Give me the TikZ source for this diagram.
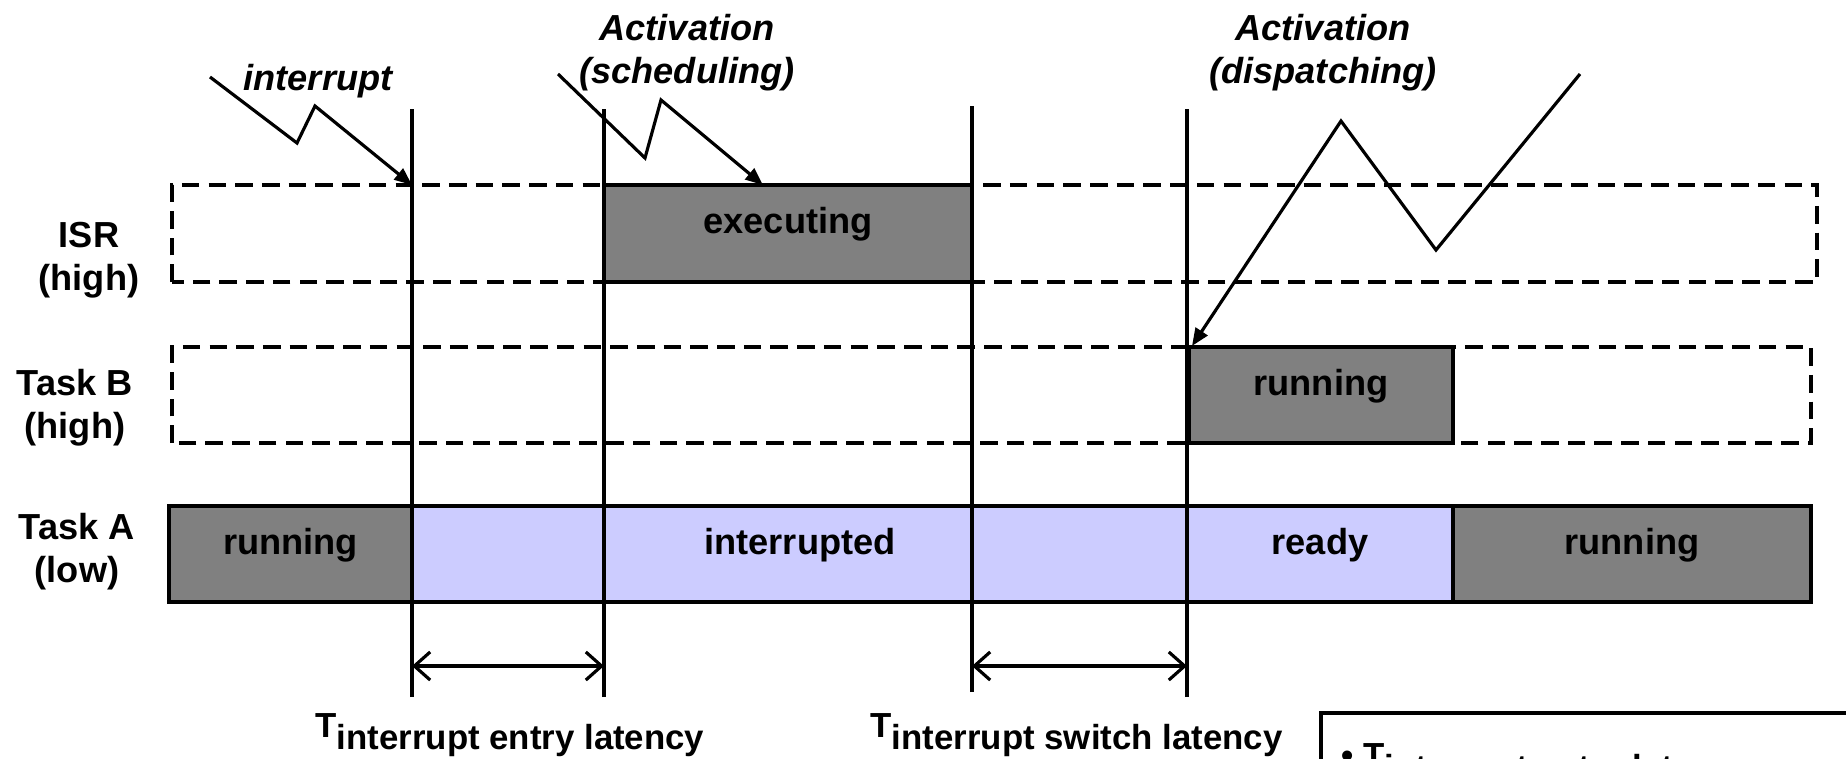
\documentclass[tikz,border=0pt]{standalone}
\usepackage{fontspec}
\setmainfont{Liberation Sans}
\usetikzlibrary{arrows.meta}
\definecolor{cbusy}{gray}{0.5}
\definecolor{cwait}{RGB}{204,204,255}
\tikzset{
  lane/.style={dash pattern=on 5pt off 2.6pt, line width=1pt},
  busy/.style={fill=cbusy, draw=black, line width=1pt},
  waitbox/.style={fill=cwait, draw=black, line width=1pt},
  txt/.style={font=\fontsize{10.3}{12.3}\selectfont\bfseries, inner sep=0pt},
  evt/.style={txt, font=\fontsize{10.3}{12.3}\selectfont\bfseries\itshape, align=center},
  latlabel/.style={txt, font=\fontsize{9.9}{12}\selectfont\bfseries, anchor=base west},
  instant/.style={line width=1pt},
  zig/.style={line width=0.9pt, -{Triangle[length=5pt, width=4pt]}},
  lat/.style={line width=0.9pt, {Straight Barb[length=4.5pt, width=8pt]}-{Straight Barb[length=4.5pt, width=8pt]}}
}

\begin{document}
\begin{tikzpicture}[scale=1]
  \useasboundingbox (0,0) rectangle (18.46,7.58);
  \clip (0,0) rectangle (18.46,7.58);

  % Bahnen fuer ISR und Task B
  \draw[lane] (1.72,4.76) rectangle (18.17,5.73);
  \draw[lane] (1.72,3.15) rectangle (18.11,4.11);

  % belegte Abschnitte
  \draw[busy] (6.04,4.76) rectangle (9.72,5.73);
  \draw[busy] (11.89,3.15) rectangle (14.53,4.11);
  \draw[waitbox] (4.12,1.56) rectangle (14.53,2.52);
  \draw[busy] (1.69,1.56) rectangle (4.12,2.52);
  \draw[busy] (14.53,1.56) rectangle (18.11,2.52);

  % Zeitpunkte
  \foreach \x/\yt/\yb in {4.12/6.49/0.61, 6.04/6.49/0.61, 9.72/6.52/0.66, 11.87/6.49/0.61}
    \draw[instant] (\x,\yb) -- (\x,\yt);

  \node[txt, anchor=base] (isrexec) at (7.88,5.245) {executing};
  \node[txt, anchor=base] (brun) at (13.21,3.63) {running};
  \node[txt, anchor=base] (arunA) at (2.905,2.04) {running};
  \node[txt, anchor=base] (aint) at (8.0,2.04) {interrupted};
  \node[txt, anchor=base] (ardy) at (13.2,2.04) {ready};
  \node[txt, anchor=base] (arunB) at (16.32,2.04) {running};

  \node[txt, align=center] (lisr) at (0.89,4.98) {ISR\\(high)};
  \node[txt, align=center] (ltb) at (0.75,3.505) {Task B\\(high)};
  \node[txt, align=center] (lta) at (0.77,2.066) {Task A\\(low)};

  % Ereignisse
  \node[evt, anchor=base] (irq) at (3.18,6.68) {interrupt};
  \node[evt] (sched) at (6.87,7.05) {Activation\\(scheduling)};
  \node[evt] (disp) at (13.23,7.05) {Activation\\(dispatching)};

  \coordinate (irqin) at (2.10,6.81);
  \coordinate (isrin) at (4.12,5.73);
  \coordinate (schedin) at (5.58,6.84);
  \coordinate (schedout) at (7.63,5.73);
  \coordinate (dispin) at (15.80,6.84);
  \coordinate (dispout) at (11.92,4.12);
  \draw[zig] (irqin) -- (2.97,6.15) -- (3.15,6.52) -- (isrin);
  \draw[zig] (schedin) -- (6.45,6.00) -- (6.61,6.58) -- (schedout);
  \draw[zig] (dispin) -- (14.36,5.08) -- (13.41,6.37) -- (dispout);

  % Latenzen
  \coordinate (entA) at (4.12,0.92);
  \coordinate (entB) at (6.04,0.92);
  \coordinate (swA) at (9.72,0.92);
  \coordinate (swB) at (11.87,0.92);
  \draw[lat] (entA) -- (entB);
  \draw[lat] (swA) -- (swB);

  \node[latlabel] (tent) at (3.15,0.21)
       {T\raisebox{-3.6pt}{interrupt entry latency}};
  \node[latlabel] (tsw) at (8.70,0.21)
       {T\raisebox{-3.6pt}{interrupt switch latency}};

  % Legende, unten abgeschnitten
  \draw[line width=1pt] (13.21,0.45) rectangle (19,-0.6);
  \node[latlabel] (legend) at (13.41,-0.09)
       {• T\raisebox{-3.6pt}{interrupt entry latency}};
\end{tikzpicture}
\end{document}
